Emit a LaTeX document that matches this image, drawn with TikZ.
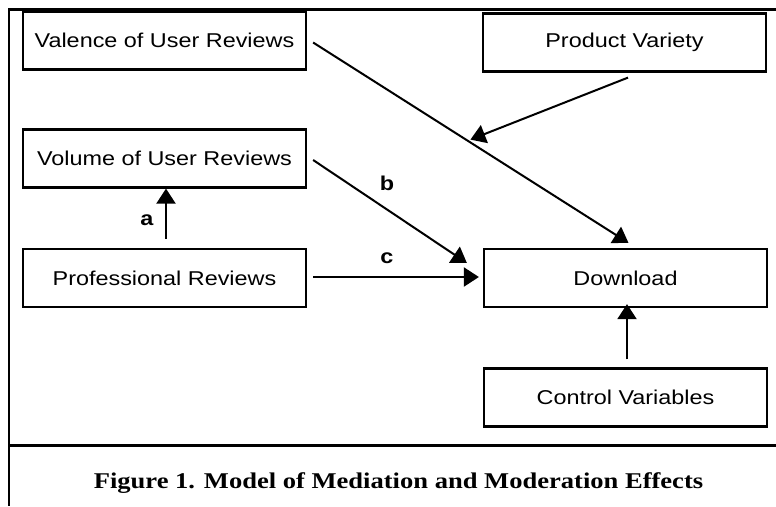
\documentclass[tikz,border=0pt]{standalone}
\usepackage{fontspec}
\setmainfont[FakeStretch=1.17]{Liberation Sans}
\newfontfamily\capfont[FakeStretch=1.18]{Liberation Serif}
\usetikzlibrary{arrows.meta,calc}

\tikzset{
  var/.style={draw, line width=2.2pt, minimum width=283pt, minimum height=58pt, inner sep=0pt, font=\fontsize{20}{24}\selectfont},
  arr/.style={line width=2pt, -{Triangle[length=15pt,width=19pt]}},
  lab/.style={font=\fontsize{20}{24}\selectfont\bfseries},
}

\begin{document}
\begin{tikzpicture}[x=1pt,y=1pt]
  \useasboundingbox (0,0) rectangle (776,-506);
  % Frame round the figure
  \draw[line width=2.5pt] (776,-9.5) -- (9,-9.5) -- (9,-506);
  \draw[line width=3pt] (9,-445) -- (776,-445); % Rule above the caption

  % The variables
  \node[var] (valence) at (164.5,-40.5) {Valence of User Reviews};
  \node[var] (variety) at (624.5,-42.5) {Product Variety};
  \node[var] (volume) at (164.5,-158.5) {Volume of User Reviews};
  \node[var] (professional) at (164.5,-278) {Professional Reviews};
  \node[var] (download) at (625.5,-278) {Download};
  \node[var] (control) at (625.5,-397.5) {Control Variables};

  % Main effect of valence, moderated by variety
  \path ([xshift=6pt,yshift=-2pt]valence.east) coordinate (v1)
        ([xshift=3pt,yshift=5pt]download.north) coordinate (v2);
  \draw[arr] (v1) -- (v2);
  \coordinate (mod) at ($(v1)!0.49!(v2)$); % Moderation point
  \draw[arr, shorten >=3pt] ([xshift=3.5pt,yshift=-5pt]variety.south) -- (mod);

  % Mediation paths a, b and c
  \draw[arr] ([xshift=1.5pt,yshift=9pt]professional.north) -- ([xshift=1.5pt]volume.south);
  \draw[arr] ([xshift=6pt,yshift=-1.5pt]volume.east) -- ([xshift=-16pt,yshift=15pt]download.west);
  \draw[arr] ([xshift=6pt,yshift=1pt]professional.east) -- ([xshift=-4pt,yshift=1pt]download.west);
  \node[lab] (la) at (147,-220) {a};
  \node[lab] (lb) at (387,-183) {b};
  \node[lab] (lc) at (387,-258) {c};

  % Controls
  \draw[arr] ([xshift=1.5pt,yshift=8pt]control.north) -- ([xshift=1.5pt,yshift=4pt]download.south);

  \node[font=\capfont\bfseries\fontsize{22.5}{26}\selectfont] (caption) at (398.5,-483) {Figure 1. Model of Mediation and Moderation Effects};
\end{tikzpicture}
\end{document}
